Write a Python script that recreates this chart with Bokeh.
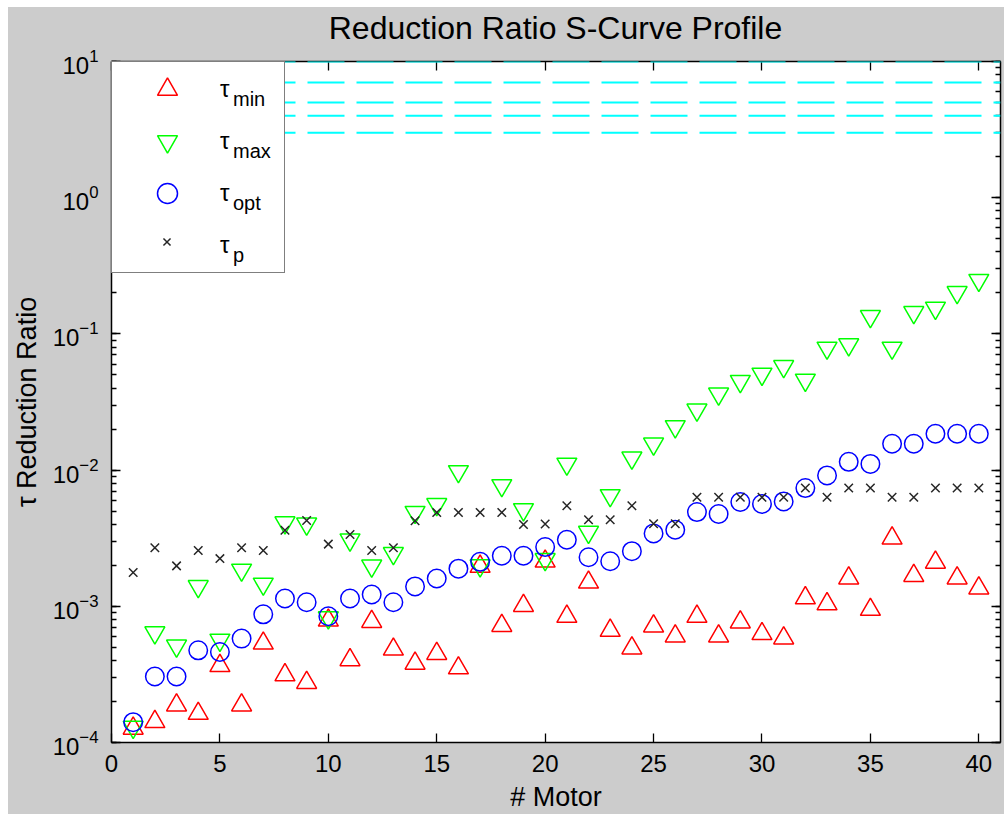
from bokeh.plotting import figure
from bokeh.models import (LinearAxis, LogAxis, Span, Legend, LegendItem, Div,
                          FixedTicker, LogTicker, LogTickFormatter, CustomJSTickFormatter, Range1d)
from bokeh.layouts import column
from bokeh.core.properties import value
from bokeh.embed import file_html
from bokeh.resources import INLINE

# ---------------- data ----------------
motor = [1, 2, 3, 4, 5, 6, 7, 8, 9, 10, 11, 12, 13, 14, 15, 16, 17, 18, 19, 20,
         21, 22, 23, 24, 25, 26, 27, 28, 29, 30, 31, 32, 33, 34, 35, 36, 37, 38, 39, 40]

tau_min = [1.27e-4, 1.42e-4, 1.88e-4, 1.63e-4, 3.66e-4, 1.88e-4, 5.35e-4, 3.13e-4, 2.75e-4, 7.89e-4,
           4.04e-4, 7.72e-4, 4.83e-4, 3.81e-4, 4.49e-4, 3.52e-4, 1.96e-3, 7.21e-4, 1.01e-3, 2.14e-3,
           8.41e-4, 1.50e-3, 6.64e-4, 4.93e-4, 7.14e-4, 6.04e-4, 8.41e-4, 6.04e-4, 7.64e-4, 6.28e-4,
           5.84e-4, 1.15e-3, 1.04e-3, 1.61e-3, 9.46e-4, 3.16e-3, 1.68e-3, 2.10e-3, 1.61e-3, 1.36e-3]

tau_max = [1.30e-4, 6.41e-4, 5.12e-4, 1.40e-3, 5.66e-4, 1.85e-3, 1.46e-3, 4.12e-3, 4.03e-3, 8.26e-4,
           3.08e-3, 1.98e-3, 2.45e-3, 4.91e-3, 5.60e-3, 9.78e-3, 1.99e-3, 7.72e-3, 5.14e-3, 2.21e-3,
           1.11e-2, 3.51e-3, 6.52e-3, 1.23e-2, 1.56e-2, 2.09e-2, 2.77e-2, 3.63e-2, 4.49e-2, 5.08e-2,
           5.78e-2, 4.59e-2, 7.89e-2, 8.34e-2, 1.346e-1, 7.89e-2, 1.44e-1, 1.55e-1, 2.02e-1, 2.48e-1]

tau_opt = [1.41e-4, 3.05e-4, 3.05e-4, 4.75e-4, 4.62e-4, 5.79e-4, 8.73e-4, 1.14e-3, 1.07e-3, 8.45e-4,
           1.14e-3, 1.22e-3, 1.07e-3, 1.40e-3, 1.60e-3, 1.89e-3, 2.12e-3, 2.35e-3, 2.35e-3, 2.72e-3,
           3.08e-3, 2.29e-3, 2.14e-3, 2.54e-3, 3.43e-3, 3.65e-3, 4.92e-3, 4.76e-3, 5.83e-3, 5.64e-3,
           5.89e-3, 7.38e-3, 9.14e-3, 1.15e-2, 1.11e-2, 1.56e-2, 1.56e-2, 1.85e-2, 1.85e-2, 1.85e-2]

tau_p = [1.77e-3, 2.69e-3, 1.98e-3, 2.57e-3, 2.24e-3, 2.69e-3, 2.57e-3, 3.62e-3, 4.27e-3, 2.86e-3,
         3.37e-3, 2.57e-3, 2.69e-3, 4.25e-3, 4.89e-3, 4.89e-3, 4.89e-3, 4.89e-3, 3.99e-3, 4.02e-3,
         5.48e-3, 4.32e-3, 4.32e-3, 5.48e-3, 4.04e-3, 4.04e-3, 6.31e-3, 6.31e-3, 6.31e-3, 6.31e-3,
         6.31e-3, 7.38e-3, 6.31e-3, 7.38e-3, 7.38e-3, 6.31e-3, 6.31e-3, 7.38e-3, 7.38e-3, 7.38e-3]

gear_ratios = [10, 7, 5, 4, 3]

x_ticks = [0, 5, 10, 15, 20, 25, 30, 35, 40]

legend_subscripts = ["min", "max", "opt", "p"]

title_text = "Reduction Ratio S-Curve Profile"
x_label = "# Motor"
y_label = "\u03c4 Reduction Ratio"

# ---------------- styling constants ----------------
FONT = "Liberation Sans"
TXT = "#000000"
BG = "#cccccc"

W = 996
TITLE_H = 34
H = 807 - TITLE_H
MB_L, MB_R, MB_T, MB_B = 103, 4, 20, 69
FRAME_H = H - MB_T - MB_B

p = figure(width=W, height=H,
           x_range=Range1d(0, 41), y_range=Range1d(1e-4, 10),
           y_axis_type="log",
           output_backend="svg", toolbar_location=None,
           min_border_left=MB_L, min_border_right=MB_R,
           min_border_top=MB_T, min_border_bottom=MB_B,
           border_fill_color=BG, background_fill_color="white",
           outline_line_color=None)
p.margin = 0
p.grid.visible = False


def style_axis(ax):
    ax.axis_line_color = "black"
    ax.axis_line_width = 1.5
    ax.major_tick_in = 9
    ax.major_tick_out = 0
    ax.minor_tick_in = 5
    ax.minor_tick_out = 0
    ax.major_tick_line_color = "black"
    ax.minor_tick_line_color = "black"
    ax.major_tick_line_width = 1.3
    ax.minor_tick_line_width = 1.3
    ax.major_label_text_font = FONT
    ax.major_label_text_color = TXT
    ax.axis_label_text_font = FONT
    ax.axis_label_text_font_style = "normal"
    ax.axis_label_text_color = TXT


xa = p.xaxis[0]
style_axis(xa)
xa.ticker = FixedTicker(ticks=x_ticks, minor_ticks=[])
xa.major_label_text_font_size = "24px"
xa.major_label_standoff = 12
xa.axis_label = x_label
xa.axis_label_text_font_size = "27px"
xa.axis_label_standoff = 7

ya = p.yaxis[0]
style_axis(ya)
ya.ticker = LogTicker(num_minor_ticks=10)
ya.formatter = LogTickFormatter(min_exponent=0)
ya.major_label_text_font_size = "24px"
ya.major_label_standoff = 13
ya.axis_label = y_label
ya.axis_label_text_font_size = "27px"
ya.axis_label_text_line_height = 1.0
ya.axis_label_standoff = 8

blank = CustomJSTickFormatter(code="return '';")
top = LinearAxis(ticker=FixedTicker(ticks=x_ticks, minor_ticks=[]), formatter=blank)
style_axis(top)
top.major_label_text_font_size = "1px"
top.major_label_standoff = 0
p.add_layout(top, "above")

right = LogAxis(ticker=LogTicker(num_minor_ticks=10), formatter=blank)
style_axis(right)
right.major_label_text_font_size = "1px"
right.major_label_standoff = 0
p.add_layout(right, "right")

# horizontal reduction-ratio reference lines
for r in gear_ratios:
    p.add_layout(Span(location=r, dimension="width", line_color="#00ffff",
                      line_width=2, line_dash="37 12"))

# data series
r_min = p.scatter(motor, tau_min, marker="triangle", size=20, fill_color=None,
                  line_color="#ff0000", line_width=1.5)
r_max = p.scatter(motor, tau_max, marker="inverted_triangle", size=20, fill_color=None,
                  line_color="#00ff00", line_width=1.5)
r_opt = p.scatter(motor, tau_opt, marker="circle", size=18.5, fill_color=None,
                  line_color="#0000ff", line_width=1.5)
r_p = p.scatter(motor, tau_p, marker="x", size=12, fill_color=None,
                line_color="#262626", line_width=1.5)

# invisible helper renderer for legend rows whose symbol is drawn elsewhere
ghost = p.scatter([], [], marker="circle", size=1, line_alpha=0, fill_alpha=0)

# legend: symbol + "τ"
PAD, GW, GH, SP = 2, 106, 50, 2
legend = Legend(items=[LegendItem(label=value("\u03c4"), renderers=[r])
                       for r in (r_min, r_max, r_opt, ghost)],
                location="top_left", margin=0, padding=PAD, spacing=SP,
                glyph_width=GW, glyph_height=GH, label_standoff=0,
                label_width=62, label_height=GH,
                border_line_color="black", border_line_width=1.5,
                background_fill_color="white", background_fill_alpha=1.0,
                label_text_font=FONT, label_text_font_size="24px",
                label_text_color=TXT)
p.add_layout(legend)

# legend subscripts: a transparent companion legend, shifted right/down under each "τ"
legend_sub = Legend(items=[LegendItem(label=value(s), renderers=[ghost]) for s in legend_subscripts],
                    location="top_left", margin=13, padding=0, spacing=SP,
                    glyph_width=109, glyph_height=GH, label_standoff=0,
                    label_height=GH, border_line_color=None,
                    background_fill_alpha=0,
                    label_text_font=FONT, label_text_font_size="20px",
                    label_text_color=TXT)
p.add_layout(legend_sub)

# smaller "x" symbol for the τp row (placed on the 4th legend row)
GH3 = 25
row4_center_from_top = PAD + GH / 2 + 3 * (GH + SP)
legend_p = Legend(items=[LegendItem(label=value(" "), renderers=[r_p])],
                  location=(PAD + GW / 2 - GH3 / 2, FRAME_H - row4_center_from_top - GH3 / 2),
                  margin=0, padding=0, spacing=0,
                  glyph_width=GH3, glyph_height=GH3, label_standoff=0,
                  label_width=1, label_height=GH3, border_line_color=None,
                  background_fill_alpha=0,
                  label_text_font=FONT, label_text_font_size="20px")
p.add_layout(legend_p)

title_div = Div(text=title_text, width=897, height=TITLE_H, margin=(0, 0, 0, 99),
                styles={"font-family": FONT, "font-size": "32px", "color": TXT,
                        "text-align": "center", "line-height": "42px",
                        "white-space": "nowrap", "overflow": "visible"})

layout = column(title_div, p, spacing=0, margin=(7, 0, 0, 8),
                styles={"background-color": BG})

open("out.html", "w").write(file_html(layout, INLINE))
